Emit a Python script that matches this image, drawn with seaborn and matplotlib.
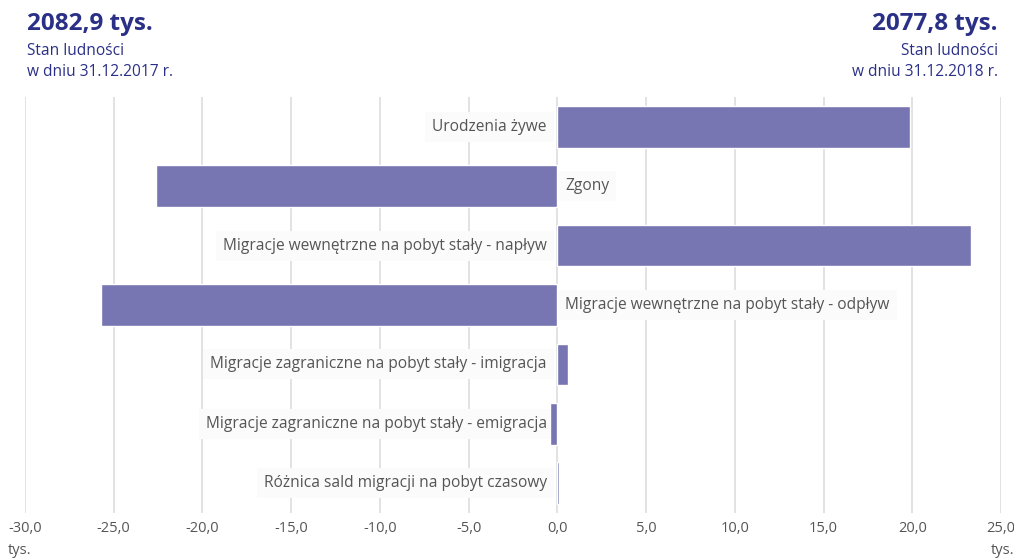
import pandas as pd
import matplotlib.pyplot as plt
import seaborn as sns

categories = [
    "Urodzenia żywe",
    "Zgony",
    "Migracje wewnętrzne na pobyt stały - napływ",
    "Migracje wewnętrzne na pobyt stały - odpływ",
    "Migracje zagraniczne na pobyt stały - imigracja",
    "Migracje zagraniczne na pobyt stały - emigracja",
    "Różnica sald migracji na pobyt czasowy",
]
values = [19.9, -22.6, 23.3, -25.7, 0.6, -0.4, 0.1]
tick_values = [-30, -25, -20, -15, -10, -5, 0, 5, 10, 15, 20, 25]
tick_labels = ["-30,0", "-25,0", "-20,0", "-15,0", "-10,0", "-5,0", "0,0",
               "5,0", "10,0", "15,0", "20,0", "25,0"]

BAR = "#7776b3"
NAVY = "#2b3087"
TXT = "#555555"

sns.set_style("white")
plt.rcParams["font.family"] = ["Open Sans", "DejaVu Sans"]

df = pd.DataFrame({"kat": categories, "val": values})

fig = plt.figure(figsize=(10.14, 5.6), dpi=100)
ax = fig.add_axes([25 / 1014, 1 - 513 / 560, 976 / 1014, 416 / 560])

sns.barplot(data=df, x="val", y="kat", orient="h", color=BAR, width=0.7,
            saturation=1, ax=ax, zorder=3)

ax.set_xlim(-30, 25)
ax.set_ylim(6.5, -0.5)
ax.set_xticks(tick_values)
ax.set_xticklabels(tick_labels, color=TXT, fontsize=10.5)
ax.set_yticks([])
ax.set_xlabel("")
ax.set_ylabel("")
ax.tick_params(axis="x", length=0, pad=6)
for s in ax.spines.values():
    s.set_visible(False)
for t in tick_values:
    ax.axvline(t, color="#dddddd", lw=1.2, zorder=0)

# etykiety przy osi zero, po stronie przeciwnej do słupka (małe słupki -> lewa strona)
for i, (c, v) in enumerate(zip(categories, values)):
    if v >= 0:
        x, ha = -0.6, "right"
    elif v > -1:
        x, ha = v - 0.2, "right"
    else:
        x, ha = 0.45, "left"
    ax.text(x, i, c, ha=ha, va="center", fontsize=11.2, color=TXT, zorder=2,
            bbox=dict(boxstyle="square,pad=0.45", fc="#fbfbfb", ec="none"))

fig.text(8 / 1014, 1 - 550 / 560, "tys.", color=TXT, fontsize=10.5, ha="left", va="center")
fig.text(1014 / 1014, 1 - 550 / 560, "tys.", color=TXT, fontsize=10.5, ha="right", va="center")

fig.text(27 / 1014, 1 - 24 / 560, "2082,9 tys.", color=NAVY, fontsize=17.5, fontweight="bold", ha="left", va="center")
fig.text(27 / 1014, 1 - 51 / 560, "Stan ludności", color=NAVY, fontsize=11.2, ha="left", va="center")
fig.text(27 / 1014, 1 - 72 / 560, "w dniu 31.12.2017 r.", color=NAVY, fontsize=11.2, ha="left", va="center")
fig.text(998 / 1014, 1 - 24 / 560, "2077,8 tys.", color=NAVY, fontsize=17.5, fontweight="bold", ha="right", va="center")
fig.text(998 / 1014, 1 - 51 / 560, "Stan ludności", color=NAVY, fontsize=11.2, ha="right", va="center")
fig.text(998 / 1014, 1 - 72 / 560, "w dniu 31.12.2018 r.", color=NAVY, fontsize=11.2, ha="right", va="center")

fig.savefig("out.png", dpi=100)
